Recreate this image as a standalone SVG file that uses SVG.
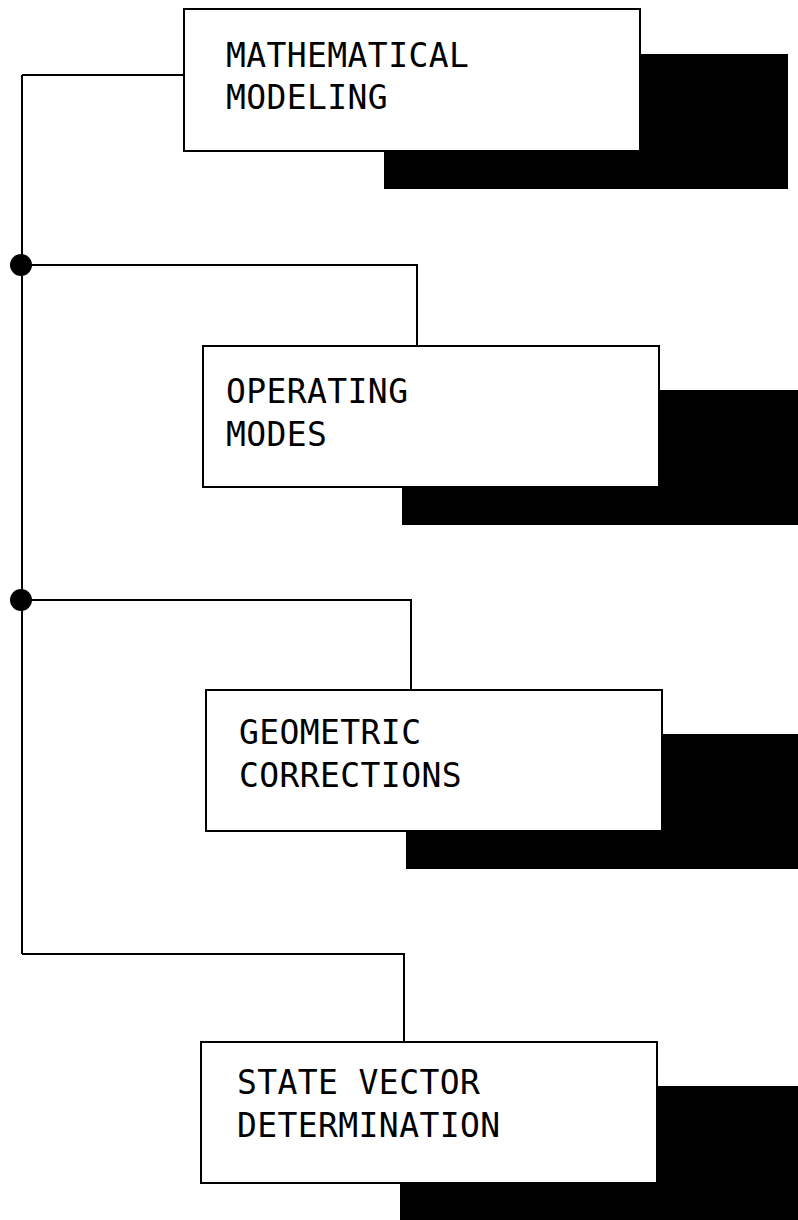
<svg xmlns="http://www.w3.org/2000/svg" width="798" height="1220" viewBox="0 0 798 1220">
  <style>
    .shadow { fill: #000; stroke: none; }
    .box { fill: #fff; stroke: #000; stroke-width: 2; }
    .wire { fill: none; stroke: #000; stroke-width: 2; }
    .dot { fill: #000; }
    .label { font-family: "DejaVu Sans Mono", "Liberation Mono", monospace; font-size: 33px; letter-spacing: 0.4px; fill: #000; }
  </style>
  <rect width="798" height="1220" fill="#fff"/>

  <g id="connectors">
    <path class="wire" d="M22 75 V954"/>
    <path class="wire" d="M22 75 H184"/>
    <path class="wire" d="M22 265 H417 V346"/>
    <path class="wire" d="M22 600 H411 V690"/>
    <path class="wire" d="M22 954 H404 V1042"/>
    <circle class="dot" cx="21" cy="265" r="11"/>
    <circle class="dot" cx="21" cy="600" r="11"/>
  </g>

  <g id="mathematical-modeling">
    <rect class="shadow" x="384" y="54" width="404" height="135"/>
    <rect class="box" x="184" y="9" width="456" height="142"/>
    <text class="label" x="226" y="67">MATHEMATICAL</text>
    <text class="label" x="226" y="109">MODELING</text>
  </g>

  <g id="operating-modes">
    <rect class="shadow" x="402" y="390" width="404" height="135"/>
    <rect class="box" x="203" y="346" width="456" height="141"/>
    <text class="label" x="226" y="403">OPERATING</text>
    <text class="label" x="226" y="446">MODES</text>
  </g>

  <g id="geometric-corrections">
    <rect class="shadow" x="406" y="734" width="404" height="135"/>
    <rect class="box" x="206" y="690" width="456" height="141"/>
    <text class="label" x="239" y="744">GEOMETRIC</text>
    <text class="label" x="239" y="787">CORRECTIONS</text>
  </g>

  <g id="state-vector-determination">
    <rect class="shadow" x="400" y="1086" width="404" height="140"/>
    <rect class="box" x="201" y="1042" width="456" height="141"/>
    <text class="label" x="237" y="1094">STATE VECTOR</text>
    <text class="label" x="237" y="1137">DETERMINATION</text>
  </g>
</svg>
